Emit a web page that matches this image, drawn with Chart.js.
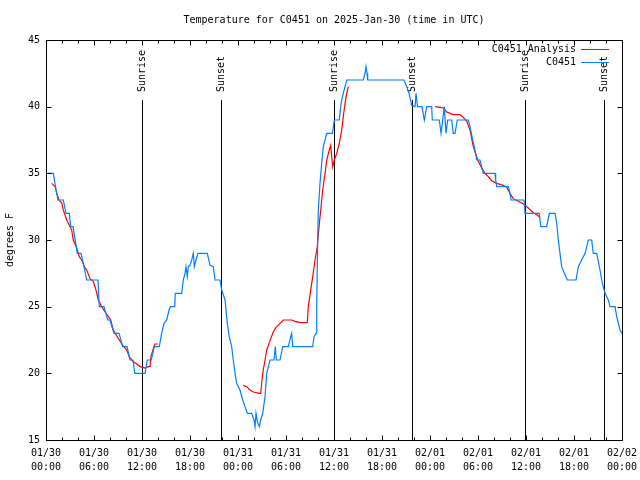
<!DOCTYPE html>
<html><head><meta charset="utf-8">
<script src="https://cdn.jsdelivr.net/npm/chart.js@4/dist/chart.umd.min.js"></script>
<style>html,body{margin:0;padding:0;background:#fff;}</style>
</head><body>
<canvas id="c" width="640" height="480"></canvas>
<script>
const titleText = 'Temperature for C0451 on 2025-Jan-30 (time in UTC)';
const yTitle = 'degrees F';
const seriesNames = ['C0451 Analysis', 'C0451'];
const tickHours = [0,6,12,18,24,30,36,42,48,54,60,66,72];
const tickDates = ['01/30','01/30','01/30','01/30','01/31','01/31','01/31','01/31','02/01','02/01','02/01','02/01','02/02'];
const tickTimes = ['00:00','06:00','12:00','18:00','00:00','06:00','12:00','18:00','00:00','06:00','12:00','18:00','00:00'];
const yTicks = [15,20,25,30,35,40,45];
const sunHours = [12.04, 21.9, 36.04, 45.79, 59.9, 69.79];
const sunLabels = ['Sunrise','Sunset','Sunrise','Sunset','Sunrise','Sunset'];

const obsHours = [0,0.91,1.19,1.5,2.16,2.5,2.91,3.09,3.38,3.91,4.38,4.75,5.09,6.5,6.66,7.25,7.71,8.0,8.5,9.13,9.59,10.13,10.5,10.88,11.09,12.38,12.66,13.16,13.54,14.16,14.46,14.75,15.09,15.38,15.54,16.09,16.16,16.96,17.16,17.38,17.5,17.66,17.79,18.0,18.21,18.41,18.54,18.75,19.0,20.16,20.5,20.91,21.13,21.75,21.96,22.38,22.66,22.91,23.21,23.41,23.63,23.83,24.25,24.59,24.88,25.16,25.71,26.0,26.13,26.25,26.41,26.66,26.84,27.09,27.38,27.59,28.0,28.5,28.66,28.79,29.25,29.59,30.29,30.59,30.71,30.84,33.34,33.5,33.75,33.84,33.96,34.04,34.25,34.46,34.66,35.09,35.79,36.04,36.66,36.88,37.16,37.59,39.66,39.88,40.0,40.13,40.21,44.75,45.09,45.38,45.71,46.13,46.25,46.44,47.0,47.29,47.44,47.59,48.21,48.29,49.16,49.38,49.59,49.79,50.0,50.21,50.71,50.91,51.13,51.41,52.79,53.0,53.34,53.63,53.84,54.25,54.46,54.66,56.13,56.21,56.34,57.79,58.0,58.13,59.75,59.88,61.66,61.84,62.59,62.91,63.63,63.84,64.04,64.25,64.46,64.88,65.16,66.25,66.54,66.96,67.38,67.79,68.21,68.41,68.84,69.25,69.54,69.88,70.29,70.5,71.13,71.34,71.75,72];
const obsTemps = [35,35,34,33,33,32,32,31,31,29,29,28,27,27,25,25,24,24,23,23,22,22,21,21,20,20,21,21,22,22,23,23.75,24,24.75,25,25,26,26,27,27.5,28,27.25,28,28.1,28.5,29,28,28.5,29,29,28.1,28,27,27,26.25,25.5,23.75,22.75,22,21,20,19.25,18.75,18,17.5,17,17,16.5,16,17,16.4,16,16.5,17,18.25,20,21,21,22,21,21,22,22,22.75,23,22,22,22.75,23,25,30,32.25,34.25,35.75,37,38,38,39,39,40.25,41,42,42,42.5,43,42.5,42,42,41.5,41,40.1,40,41,40,40,39,39.5,40,40,39,39,38,39,40,38,39,39,38,38,39,39,38.5,37.5,36.75,36,36,35.5,35,35,34.5,34,34,33.5,33,33,32,32,31,31,32,32,31.25,30,29,28,27.4,27,27,28,28.5,29,30,30,29,29,27.75,26.75,26,25.5,25,25,24.25,23.25,23];

const anaHours = [0.71,1.13,1.34,1.66,1.96,2.16,2.59,2.91,3.21,3.41,3.84,4.16,4.46,4.88,5.09,5.5,5.91,6.25,6.54,6.96,7.38,7.79,8.09,8.41,8.75,9.16,9.59,10.09,10.41,10.84,11.34,11.75,12.38,12.79,13.0,13.13,13.5,13.63,14.0,
  14.5,
  24.66,25.09,25.5,25.91,26.66,26.84,27.0,27.16,27.38,27.59,27.79,28.09,28.41,28.75,29.25,29.66,30.71,31.13,31.75,32.66,32.79,33.0,33.34,33.63,33.91,34.13,34.34,34.59,34.88,35.09,35.41,35.59,35.71,35.84,36.04,36.34,36.66,36.96,37.16,37.38,37.59,37.79,
  42,
  48.63,49.25,49.66,50.09,50.5,50.91,51.75,52.16,52.59,53.0,53.21,53.41,53.75,54.04,54.46,54.88,55.29,55.71,56.34,57.16,57.59,58.0,58.41,59.04,59.66,60.29,60.91,61.34,61.75];
const anaTemps = [34.25,34,33.5,32.95,32.8,32.25,31.5,31.1,30.75,30,29.4,28.75,28.5,27.9,27.75,27.1,26.9,26.25,25.5,25,24.6,24.25,24,23.25,22.9,22.5,22.1,21.75,21.25,20.9,20.7,20.5,20.4,20.5,20.5,21.3,22,22.2,22.2,
  null,
  19.1,19,18.75,18.6,18.5,18.5,19.5,20.25,21,21.75,22.1,22.6,23.1,23.45,23.75,24,24,23.9,23.8,23.8,25,25.9,27.25,28.5,29.5,31,32.25,33.75,35,36,36.75,37.1,36.25,35.5,36,36.5,37.25,38.25,39.25,40.25,41,41.5,
  null,
  40,39.95,39.9,39.6,39.5,39.4,39.4,39.2,38.9,38.25,37.6,37,36.4,35.9,35.4,35,34.75,34.45,34.25,34.1,33.95,33.5,33.1,32.9,32.7,32.4,32.05,31.9,31.7];

const FONT = '"DejaVu Sans Mono", "Liberation Mono", monospace';
const RED = '#ff0000', BLUE = '#0080ff';

const gp = {
  id: 'gp',
  beforeDatasetsDraw(chart) {
    const ctx = chart.ctx, a = chart.chartArea, xs = chart.scales.x;
    ctx.save();
    ctx.strokeStyle = '#000'; ctx.lineWidth = 1;
    ctx.fillStyle = '#000';
    ctx.font = '10px ' + FONT;
    sunHours.forEach((h, i) => {
      const x = Math.round(xs.getPixelForValue(h)) + 0.5;
      ctx.beginPath(); ctx.moveTo(x, a.top + 60); ctx.lineTo(x, a.bottom); ctx.stroke();
      ctx.save();
      ctx.translate(x, a.top + 52);
      ctx.rotate(-Math.PI / 2);
      ctx.textAlign = 'left'; ctx.textBaseline = 'middle';
      ctx.fillText(sunLabels[i], 0, 0);
      ctx.restore();
    });
    ctx.restore();
  },
  afterDraw(chart) {
    const ctx = chart.ctx, a = chart.chartArea, xs = chart.scales.x, ys = chart.scales.y;
    ctx.save();
    ctx.strokeStyle = '#000'; ctx.lineWidth = 1;
    const L = Math.round(a.left) + 0.5, R = Math.round(a.right) + 0.5, T = Math.round(a.top) + 0.5, B = Math.round(a.bottom) + 0.5;
    ctx.beginPath();
    yTicks.forEach(v => {
      const y = Math.round(ys.getPixelForValue(v)) + 0.5;
      ctx.moveTo(L, y); ctx.lineTo(L + 5, y);
      ctx.moveTo(R, y); ctx.lineTo(R - 5, y);
    });
    for (let k = 0; k < tickHours.length; k++) {
      const x = Math.round(xs.getPixelForValue(tickHours[k])) + 0.5;
      ctx.moveTo(x, B); ctx.lineTo(x, B - 5);
      ctx.moveTo(x, T); ctx.lineTo(x, T + 5);
      if (k < tickHours.length - 1) {
        const step = (tickHours[k + 1] - tickHours[k]) / 3;
        for (let m = 1; m < 3; m++) {
          const xm = Math.round(xs.getPixelForValue(tickHours[k] + m * step)) + 0.5;
          ctx.moveTo(xm, B); ctx.lineTo(xm, B - 3);
          ctx.moveTo(xm, T); ctx.lineTo(xm, T + 3);
        }
      }
    }
    ctx.stroke();
    ctx.strokeRect(L, T, R - L, B - T);
    ctx.fillStyle = '#000';
    ctx.font = '10px ' + FONT;
    ctx.textAlign = 'center'; ctx.textBaseline = 'middle';
    ctx.fillText(titleText, (a.left + a.right) / 2, 20);
    ctx.save();
    ctx.translate(10, (a.top + a.bottom) / 2);
    ctx.rotate(-Math.PI / 2);
    ctx.fillText(yTitle, 0, 0);
    ctx.restore();
    ctx.textAlign = 'right';
    const cols = [RED, BLUE];
    seriesNames.forEach((n, i) => {
      const y = a.top + 9 + i * 13;
      ctx.fillStyle = '#000';
      ctx.fillText(n, a.right - 46, y);
      ctx.strokeStyle = cols[i];
      ctx.beginPath();
      ctx.moveTo(a.right - 41, Math.round(y) + 0.5); ctx.lineTo(a.right - 13, Math.round(y) + 0.5);
      ctx.stroke();
    });
    ctx.restore();
  }
};

new Chart(document.getElementById('c'), {
  type: 'line',
  data: {
    datasets: [
      { label: seriesNames[1], data: obsHours.map((h, i) => ({x: h, y: obsTemps[i]})),
        borderColor: BLUE, borderWidth: 1.2, pointRadius: 0, tension: 0, fill: false },
      { label: seriesNames[0], data: anaHours.map((h, i) => ({x: h, y: anaTemps[i]})),
        borderColor: RED, borderWidth: 1.2, pointRadius: 0, tension: 0, fill: false, spanGaps: false }
    ]
  },
  options: {
    responsive: false, devicePixelRatio: 1, animation: false,
    layout: { padding: { left: 0, top: 40, right: 18, bottom: 0 } },
    plugins: { legend: { display: false }, title: { display: false }, tooltip: { enabled: false } },
    scales: {
      x: {
        type: 'linear', min: 0, max: 72,
        afterBuildTicks: s => { s.ticks = tickHours.map(v => ({ value: v })); },
        afterFit: s => { s.height = 40; s.paddingLeft = 0; s.paddingRight = 0; },
        grid: { display: false, drawTicks: false }, border: { display: false },
        ticks: { autoSkip: false, maxRotation: 0, padding: 6, color: '#000',
          font: { family: FONT, size: 10, lineHeight: 1.4 },
          callback: (v, i) => [tickDates[i], tickTimes[i]] }
      },
      y: {
        min: 15, max: 45,
        afterBuildTicks: s => { s.ticks = yTicks.map(v => ({ value: v })); },
        afterFit: s => { s.width = 46; s.paddingTop = 0; s.paddingBottom = 0; },
        grid: { display: false, drawTicks: false }, border: { display: false },
        ticks: { padding: 6, color: '#000', font: { family: FONT, size: 10 } }
      }
    }
  },
  plugins: [gp]
});
</script>
</body></html>
